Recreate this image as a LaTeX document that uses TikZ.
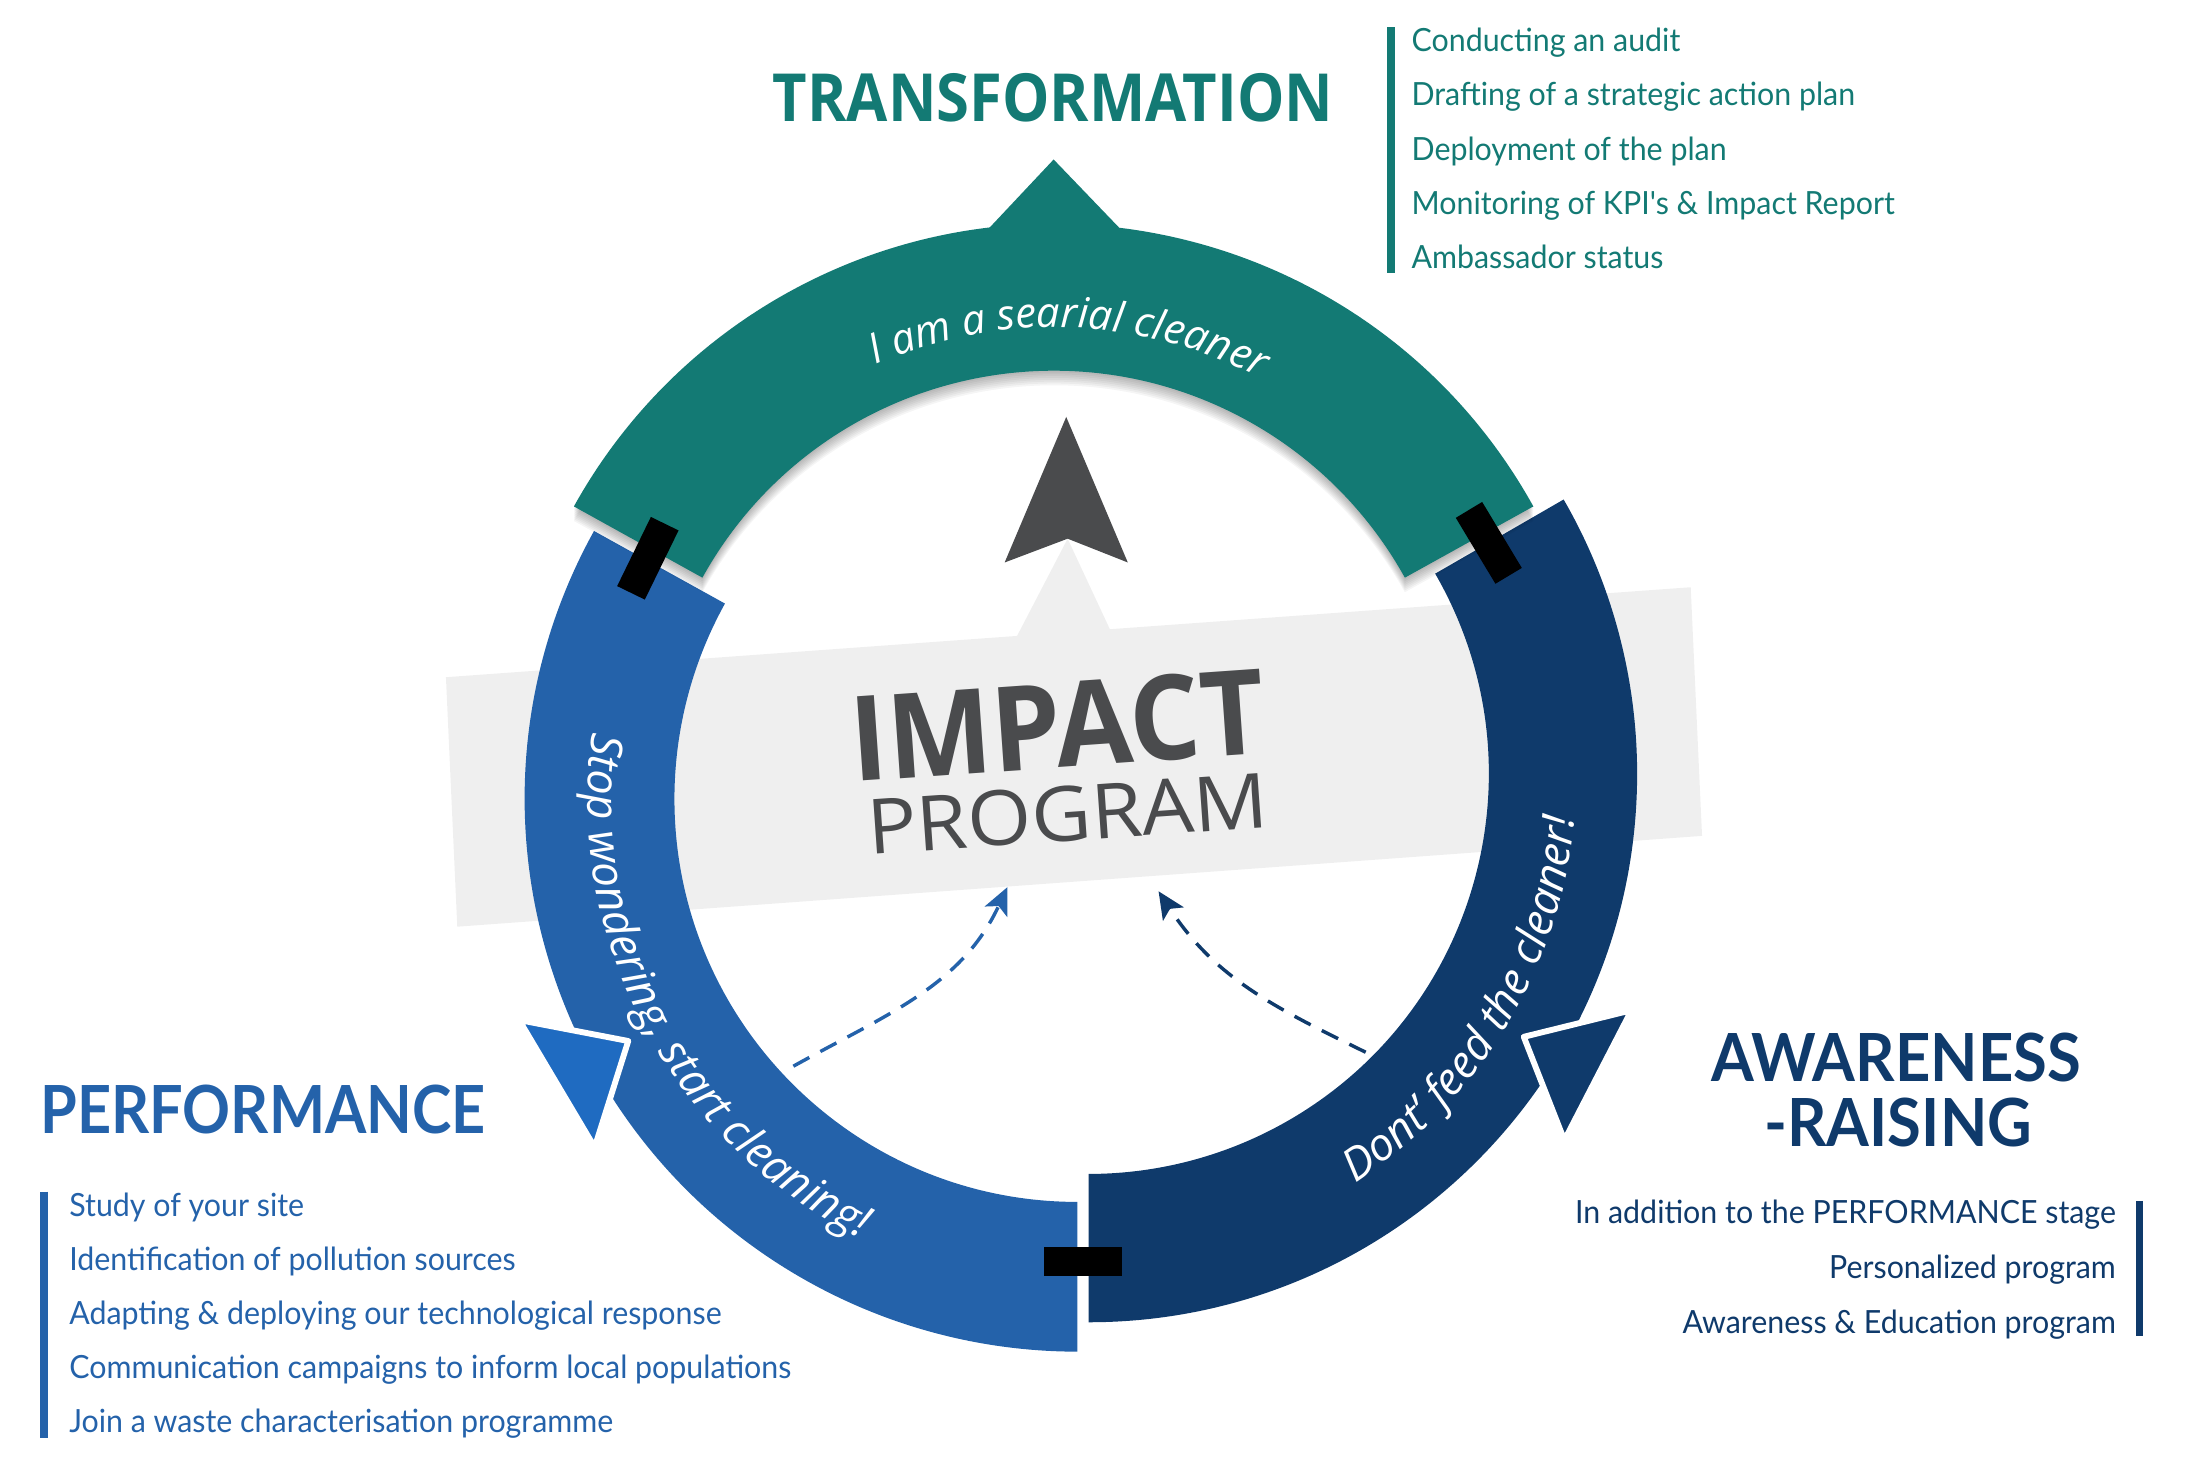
\documentclass[tikz,border=0pt]{standalone}
\usepackage{fontspec}
\setmainfont{Lato}[Ligatures=TeXOff]
\newfontfamily\osans{Open Sans}
\usepackage{tikz}
\usetikzlibrary{arrows.meta,decorations.text}

\definecolor{transteal}{HTML}{137A74}
\definecolor{perfblue}{HTML}{2462AA}
\definecolor{perftip}{HTML}{1F6BC1}
\definecolor{awarenavy}{HTML}{0F3A6B}
\definecolor{bannergray}{HTML}{EFEFEF}
\definecolor{impactgray}{HTML}{4A4B4D}

\newcommand{\arcfont}{\osans\itshape\fontsize{17}{17}\selectfont}
\newcommand{\arcfontbig}{\osans\itshape\fontsize{18.2}{18.2}\selectfont}
\newcommand{\ringband}[5]{(#1) ++(#2:#4) arc[start angle=#2,end angle=#3,radius=#4] -- ++(#3:{#5-#4}) arc[start angle=#3,end angle=#2,radius=#5] -- cycle}

\begin{document}
\begin{tikzpicture}[x=0.02cm,y=0.02cm,
  tab/.style={fill=black,minimum width=1.1cm,minimum height=0.44cm,inner sep=0pt},
  bandtip/.style={draw=white,line width=2.4pt,line join=round},
  heading/.style={font=\fontsize{27}{27}\selectfont\bfseries,inner sep=0pt,anchor=base},
  listitem/.style={font=\fontsize{13}{13}\selectfont,inner sep=0pt,xscale=0.95},
  dashlink/.style={line width=1.4pt,dash pattern=on 7.4pt off 5.1pt,-{Stealth[length=11pt,width=10pt,inset=2.5pt]}},
  arctext/.style={decorate,decoration={text along path,text align=center,text color=white,text={#1}}}]
  \useasboundingbox (0,0) rectangle (1568,1060);
  \coordinate (T) at (753,508);
  \coordinate (B) at (770,489);
  \coordinate (D) at (778,507);

  \fill[bannergray] (318.7,576) -- (1208.3,640.3) -- (1216.4,462.6) -- (326.8,397.7) -- cycle;
  \fill[bannergray] (763,675) -- (724,600) -- (798,600) -- cycle;
  \fill[impactgray] (762,762) -- (806,658) -- (763,675) -- (718,658) -- cycle;

  \fill[awarenavy] \ringband{778,507}{-90}{30}{392}{286};
  \fill[perfblue] \ringband{770,489}{151}{270}{395}{288};
  \filldraw[fill=perftip,bandtip] (371,331) -- (449,316) -- (425,240) -- cycle;
  \filldraw[fill=awarenavy,bandtip] (1166,338) -- (1089,319) -- (1118,245) -- cycle;

  \foreach \k in {1,...,8}
    \fill[black,opacity=0.04,shift={(0,-1.3*\k)}] \ringband{753,508}{29}{151}{392}{287};
  \fill[transteal] \ringband{753,508}{29}{151}{392}{287};
  \fill[transteal] (706,896) -- (753,946) -- (802,895) -- (753,870) -- cycle;

  \node[tab,rotate=64] (tableft) at (463,661) {};
  \node[tab,rotate=-59] (tabright) at (1064,672) {};
  \node[tab,minimum width=1.12cm,minimum height=0.42cm] (tabbottom) at (774,158.5) {};

  \path[arctext={|\arcfont|I am a searial cleaner}] ([shift={(138:318)}]T) arc[start angle=138,end angle=38,radius=318];
  \path[arctext={|\arcfontbig|Stop wondering, start cleaning!}] ([shift={(160:350)}]B) arc[start angle=160,end angle=256,radius=350];
  \path[arctext={|\arcfontbig|Dont’ feed the cleaner!}] ([shift={(-78:349)}]D) arc[start angle=-78,end angle=16,radius=349];

  \node[impactgray,rotate=4,xscale=0.94,anchor=base,inner sep=0pt,font=\osans\bfseries\fontsize{48}{48}\selectfont] (impact) at (758,511.5) {IMPACT};
  \node[impactgray,rotate=4,xscale=1.08,anchor=base,inner sep=0pt,font=\osans\fontsize{31}{31}\selectfont] (program) at (764.5,459) {PROGRAM};

  \coordinate (perfstart) at (567,298);
  \coordinate (perfend) at (720,426);
  \coordinate (awarestart) at (976,308);
  \coordinate (awareend) at (828,423);
  \draw[dashlink,perfblue] (perfstart) to[out=29,in=245] (perfend);
  \draw[dashlink,awarenavy] (awarestart) to[out=154,in=-57] (awareend);

  \node[heading,transteal,xscale=0.9,font=\osans\fontsize{27}{27}\selectfont\bfseries] (transformation) at (752.5,973) {TRANSFORMATION};
  \node[heading,perfblue,xscale=0.895,anchor=base west] (performance) at (28.7,250) {PERFORMANCE};
  \node[heading,awarenavy,xscale=0.927] (awareness) at (1355,287) {AWARENESS};
  \node[heading,awarenavy,xscale=0.927] (raising) at (1356.6,240.5) {-RAISING};

  \draw[transteal,line width=3.1pt] (994,1040.5) -- (994,865);
  \draw[perfblue,line width=3.1pt] (31.3,208.4) -- (31.3,32.6);
  \draw[awarenavy,line width=3.1pt] (1529,201.7) -- (1529,105.5);

  \foreach \txt [count=\i] in {Conducting an audit, Drafting of a strategic action plan, Deployment of the plan, Monitoring of KPI's \& Impact Report, Ambassador status}
    \node[listitem,transteal,anchor=base west] (trans\i) at (1008.5,{1023-38.7*(\i-1)}) {\txt};
  \foreach \txt [count=\i] in {Study of your site, Identification of pollution sources, Adapting \& deploying our technological response, Communication campaigns to inform local populations, Join a waste characterisation programme}
    \node[listitem,perfblue,anchor=base west] (perf\i) at (49.2,{190.5-38.6*(\i-1)}) {\txt};
  \foreach \txt [count=\i] in {In addition to the PERFORMANCE stage, Personalized program, Awareness \& Education program}
    \node[listitem,awarenavy,anchor=base east] (aware\i) at (1512.5,{185.3-39*(\i-1)}) {\txt};
\end{tikzpicture}
\end{document}
